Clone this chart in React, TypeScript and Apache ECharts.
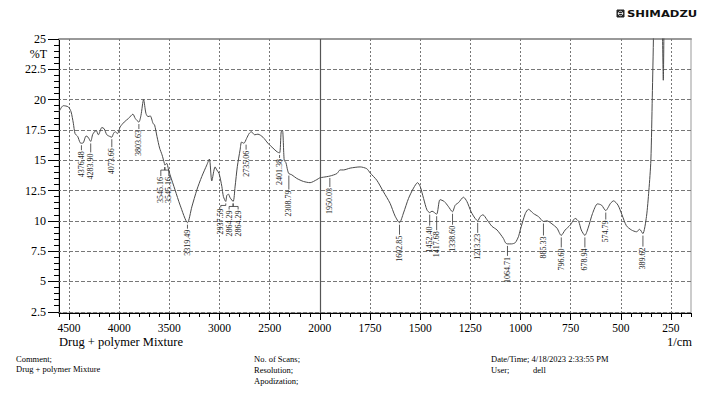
import { useEffect, useRef } from "react";
import * as echarts from "echarts";

// Spectrum (wavenumber in 1/cm, transmittance in %T)
const wavenumbers = [
  4600, 4557, 4507, 4480, 4457, 4440, 4413, 4390, 4376, 4357, 4330, 4310, 4284, 4263, 4230, 4207,
  4173, 4150, 4123, 4090, 4074, 4057, 4040, 4017, 3990, 3950, 3907, 3863, 3840, 3804, 3783, 3757,
  3733, 3713, 3690, 3663, 3647, 3623, 3597, 3573, 3550, 3545, 3527, 3510, 3493, 3443, 3393, 3319,
  3276, 3226, 3177, 3127, 3101, 3077, 3044, 3027, 3004, 2977, 2961, 2938, 2927, 2911, 2894, 2864,
  2845, 2822, 2795, 2780, 2757, 2730, 2705, 2683, 2650, 2617, 2567, 2517, 2467, 2427, 2401, 2385,
  2372, 2355, 2338, 2322, 2309, 2280, 2230, 2163, 2097, 2030, 2000, 1982, 1949, 1915, 1899, 1882,
  1849, 1799, 1766, 1749, 1716, 1683, 1650, 1625, 1603, 1583, 1558, 1533, 1513, 1500, 1483, 1466,
  1452, 1441, 1418, 1401, 1380, 1360, 1339, 1325, 1309, 1284, 1267, 1246, 1226, 1213, 1201, 1187,
  1167, 1142, 1117, 1085, 1075, 1065, 1045, 1026, 1010, 1001, 976, 960, 935, 910, 885, 868,
  843, 818, 797, 777, 752, 727, 710, 697, 679, 663, 641, 616, 596, 575, 551, 536,
  514, 494, 472, 447, 422, 406, 390, 372, 360, 350, 343, 337, 330, 300, 292, 288,
  285, 280, 150,
];
const transmittance = [
  19.0, 19.5, 19.4, 19.0, 18.05, 17.2, 16.95, 16.45, 16.4, 16.45, 17.0, 16.9, 16.55, 17.15, 17.45, 17.1,
  17.7, 17.6, 17.1, 16.95, 16.9, 17.2, 17.35, 17.2, 17.75, 18.15, 18.45, 18.8, 18.45, 18.15, 18.7, 20.0,
  18.85, 18.6, 18.65, 18.05, 17.9, 16.95, 16.0, 15.45, 14.75, 14.6, 14.75, 14.3, 13.8, 12.55, 11.3, 9.85,
  11.15, 12.55, 13.65, 14.6, 15.1, 13.3, 14.45, 14.2, 13.9, 12.85, 12.0, 11.6, 12.1, 12.2, 11.9, 11.6,
  12.8, 14.5, 15.85, 16.5, 16.4, 16.8, 17.2, 17.35, 17.1, 17.15, 16.9, 16.4, 16.0, 15.7, 15.6, 17.35,
  17.45, 15.0, 14.8, 14.2, 13.9, 13.8, 13.5, 13.25, 13.15, 13.4, 13.55, 13.6, 13.7, 13.9, 14.2, 14.2,
  14.35, 14.45, 14.3, 13.95, 13.35, 12.4, 11.45, 10.4, 9.85, 10.65, 11.85, 12.7, 13.15, 12.85, 11.85, 10.9,
  10.68, 10.8, 10.55, 11.75, 11.6, 11.2, 10.75, 11.3, 11.5, 11.95, 11.6, 10.75, 10.2, 10.0, 10.35, 10.5,
  10.1, 9.55, 9.25, 8.55, 8.2, 8.1, 8.1, 8.2, 8.7, 9.25, 10.6, 10.95, 10.6, 10.35, 9.95, 10.0,
  9.75, 9.4, 8.8, 9.25, 9.65, 10.2, 9.95, 9.25, 8.8, 9.4, 10.6, 11.4, 11.3, 10.85, 11.45, 11.65,
  11.3, 10.5, 9.6, 9.25, 9.1, 9.3, 8.95, 10.35, 12.5, 15.0, 20.2, 25.5, 40, 35, 25.5, 21.6,
  25.5, 35, 40,
];

// Peak picks
const peakLabels = [
  "4376.48", "4283.90", "4073.66", "3803.63", "3545.16", "3545.16", "3319.49", "2937.59",
  "2864.29", "2864.29", "2735.06", "2401.38", "2308.79", "1950.03", "1602.85", "1452.40",
  "1417.68", "1338.60", "1213.23", "1064.71", "885.33", "796.60", "678.94", "574.79", "389.62",
];
const peakWavenumbers = [
  4376.48, 4283.9, 4073.66, 3803.63, 3545.16, 3545.16, 3319.49, 2937.59,
  2864.29, 2864.29, 2735.06, 2401.38, 2308.79, 1950.03, 1602.85, 1452.4,
  1417.68, 1338.6, 1213.23, 1064.71, 885.33, 796.6, 678.94, 574.79, 389.62,
];
const peakTransmittance = [
  16.4, 16.55, 16.9, 18.15, 14.6, 14.6, 9.85, 11.6,
  11.6, 11.6, 16.45, 15.6, 13.9, 13.7, 9.85, 10.68,
  10.55, 10.75, 10.0, 8.1, 9.95, 8.8, 8.8, 10.85, 8.95,
];
// label layout (pixel shift sideways, pixel drop below the curve)
const labelShift = [0, 0, 0, 0, -4, 4, 0, -5, -4, 5, 0, 0, 0, 0, 0, 0, 0, 0, 0, 0, 0, 0, 0, 0, 0];
const labelDrop = [7, 11, 10, 7, 11, 11, 6, 6, 8, 8, 7, 5, 16, 11, 12, 13, 16, 13, 12, 12, 14, 12, 12, 9, 13];

const xTickLabels = [4500, 4000, 3500, 3000, 2500, 2000, 1750, 1500, 1250, 1000, 750, 500, 250];
const yTickLabels = [2.5, 5, 7.5, 10, 12.5, 15, 17.5, 20, 22.5, 25];

// dual-scale wavenumber axis: 2000 and above at 1x, below 2000 at 2x
const toPos = (w: number) => (w >= 2000 ? w : 2 * w - 2000);
const toWave = (p: number) => (p >= 2000 ? p : (p + 2000) / 2);

const X_MIN = toPos(150);
const X_MAX = toPos(4600);
const Y_MIN = 2.4;
const Y_MAX = 25;

const SERIF = '"Liberation Serif", "Times New Roman", serif';

export default function App() {
  const ref = useRef<HTMLDivElement>(null);

  useEffect(() => {
    if (!ref.current) return;
    const chart = echarts.init(ref.current, null, { renderer: "svg" });

    const xMajor = xTickLabels.map(toPos);
    const xMinor: number[] = [];
    for (let p = -1700; p <= 4600; p += 100) if (!xMajor.includes(p)) xMinor.push(p);
    const yMinor: number[] = [];
    for (let k = 5; k <= 50; k++) {
      const v = k / 2;
      if (!yTickLabels.includes(v)) yMinor.push(v);
    }

    const gridLines: any[] = [];
    xMajor.forEach((p) => {
      if (p === toPos(2000)) {
        gridLines.push({ xAxis: p, lineStyle: { type: "solid", color: "#555", width: 1.2 } });
      } else {
        gridLines.push({ xAxis: p, lineStyle: { type: [2, 2], color: "#777", width: 1 } });
      }
    });
    yTickLabels
      .filter((v) => v < Y_MAX)
      .forEach((v) => {
        gridLines.push({ yAxis: v, lineStyle: { type: [4, 2], color: "#777", width: 1 } });
      });

    const option: any = {
      animation: false,
      grid: {
        left: 59,
        right: 17,
        top: 39,
        bottom: 82,
        show: true,
        borderColor: "#999",
        borderWidth: 1,
        backgroundColor: "transparent",
      },
      xAxis: [
        {
          type: "value",
          min: X_MIN,
          max: X_MAX,
          inverse: true,
          position: "bottom",
          axisLine: { show: true, onZero: false, lineStyle: { color: "#000", width: 1 } },
          axisTick: { show: true, customValues: xMajor, length: 7, lineStyle: { color: "#000" } },
          axisLabel: {
            customValues: xMajor,
            formatter: (v: number) => String(Math.round(toWave(v))),
            color: "#000",
            fontFamily: SERIF,
            fontSize: 11.5,
            margin: 9,
          },
          splitLine: { show: false },
        },
        {
          type: "value",
          min: X_MIN,
          max: X_MAX,
          inverse: true,
          position: "bottom",
          axisLine: { show: false, onZero: false },
          axisTick: { show: true, customValues: xMinor, length: 4, lineStyle: { color: "#000" } },
          axisLabel: { show: false },
          splitLine: { show: false },
        },
        {
          type: "value",
          min: X_MIN,
          max: X_MAX,
          inverse: true,
          position: "top",
          axisLine: { show: true, onZero: false, lineStyle: { color: "#999", width: 2 } },
          axisTick: { show: false },
          axisLabel: { show: false },
          splitLine: { show: false },
        },
      ],
      yAxis: [
        {
          type: "value",
          min: Y_MIN,
          max: Y_MAX,
          position: "left",
          axisLine: { show: true, onZero: false, lineStyle: { color: "#000", width: 1 } },
          axisTick: { show: true, customValues: yTickLabels, length: 11, lineStyle: { color: "#000" } },
          axisLabel: {
            customValues: yTickLabels,
            formatter: (v: number) => String(v),
            color: "#000",
            fontFamily: SERIF,
            fontSize: 12,
            margin: 13,
          },
          splitLine: { show: false },
        },
        {
          type: "value",
          min: Y_MIN,
          max: Y_MAX,
          position: "left",
          axisLine: { show: false, onZero: false },
          axisTick: { show: true, customValues: yMinor, length: 5, lineStyle: { color: "#000" } },
          axisLabel: { show: false },
          splitLine: { show: false },
        },
      ],
      series: [
        {
          type: "line",
          xAxisIndex: 0,
          yAxisIndex: 0,
          data: wavenumbers.map((w, i) => [toPos(w), transmittance[i]]),
          showSymbol: false,
          symbol: "none",
          smooth: 0.25,
          clip: true,
          lineStyle: { color: "#4a4a4a", width: 1 },
          markLine: {
            silent: true,
            symbol: "none",
            label: { show: false },
            emphasis: { disabled: true },
            data: gridLines,
            z: 1,
          },
          z: 3,
        },
        {
          type: "custom",
          xAxisIndex: 0,
          yAxisIndex: 0,
          data: peakWavenumbers.map((w, i) => [toPos(w), peakTransmittance[i], i]),
          encode: { x: 0, y: 1 },
          renderItem: (params: any, api: any) => {
            const i = api.value(2);
            const pt = api.coord([api.value(0), api.value(1)]);
            const x = pt[0];
            const y = pt[1];
            const dx = labelShift[i];
            const drop = labelDrop[i];
            const bar = dx === 0 ? drop : Math.min(5, drop - 2);
            return {
              type: "group",
              children: [
                {
                  type: "polyline",
                  shape: {
                    points: [
                      [x, y + 2],
                      [x, y + bar],
                      [x + dx, y + bar],
                      [x + dx, y + drop],
                    ],
                  },
                  style: { stroke: "#333", lineWidth: 0.8, fill: null },
                },
                {
                  type: "text",
                  x: x + dx,
                  y: y + drop + 1,
                  rotation: Math.PI / 2,
                  style: {
                    text: peakLabels[i],
                    align: "right",
                    verticalAlign: "middle",
                    font: `8px ${SERIF}`,
                    fill: "#222",
                  },
                },
              ],
            };
          },
          z: 4,
        },
      ],
      graphic: [
        {
          type: "text",
          x: 47,
          y: 54,
          style: { text: "%T", align: "right", verticalAlign: "middle", font: `12px ${SERIF}`, fill: "#000" },
        },
        {
          type: "text",
          x: 59,
          y: 342,
          style: { text: "Drug + polymer Mixture", align: "left", verticalAlign: "middle", font: `12.5px ${SERIF}`, fill: "#000" },
        },
        {
          type: "text",
          x: 692,
          y: 342,
          style: { text: "1/cm", align: "right", verticalAlign: "middle", font: `12.5px ${SERIF}`, fill: "#000" },
        },
        {
          type: "text", x: 16, y: 359,
          style: { text: "Comment;", verticalAlign: "middle", font: `8.5px ${SERIF}`, fill: "#000" },
        },
        {
          type: "text", x: 16, y: 369,
          style: { text: "Drug + polymer Mixture", verticalAlign: "middle", font: `8.5px ${SERIF}`, fill: "#000" },
        },
        {
          type: "text", x: 254, y: 359,
          style: { text: "No. of Scans;", verticalAlign: "middle", font: `8.5px ${SERIF}`, fill: "#000" },
        },
        {
          type: "text", x: 254, y: 370,
          style: { text: "Resolution;", verticalAlign: "middle", font: `8.5px ${SERIF}`, fill: "#000" },
        },
        {
          type: "text", x: 254, y: 381,
          style: { text: "Apodization;", verticalAlign: "middle", font: `8.5px ${SERIF}`, fill: "#000" },
        },
        {
          type: "text", x: 491, y: 359,
          style: { text: "Date/Time; 4/18/2023 2:33:55 PM", verticalAlign: "middle", font: `8.5px ${SERIF}`, fill: "#000" },
        },
        {
          type: "text", x: 491, y: 370,
          style: { text: "User;", verticalAlign: "middle", font: `8.5px ${SERIF}`, fill: "#000" },
        },
        {
          type: "text", x: 533, y: 370,
          style: { text: "dell", verticalAlign: "middle", font: `8.5px ${SERIF}`, fill: "#000" },
        },
        {
          type: "group",
          x: 617,
          y: 10,
          children: [
            { type: "rect", shape: { x: 0, y: 0, width: 7, height: 7 }, style: { fill: "#222", stroke: "#222", lineWidth: 1 } },
            { type: "circle", shape: { cx: 3.5, cy: 3.5, r: 2.2 }, style: { fill: "none", stroke: "#fff", lineWidth: 0.8 } },
            { type: "line", shape: { x1: 1, y1: 3.5, x2: 6, y2: 3.5 }, style: { stroke: "#fff", lineWidth: 0.8 } },
          ],
        },
        {
          type: "text",
          x: 627,
          y: 14,
          scaleX: 1.45,
          style: { text: "SHIMADZU", verticalAlign: "middle", font: 'bold 8px "DejaVu Sans", sans-serif', fill: "#111" },
        },
      ],
    };

    chart.setOption(option);
    return () => chart.dispose();
  }, []);

  return (
    <div
      ref={ref}
      style={{ position: "absolute", left: 0, top: 0, width: 708, height: 395, background: "#fff" }}
    />
  );
}
